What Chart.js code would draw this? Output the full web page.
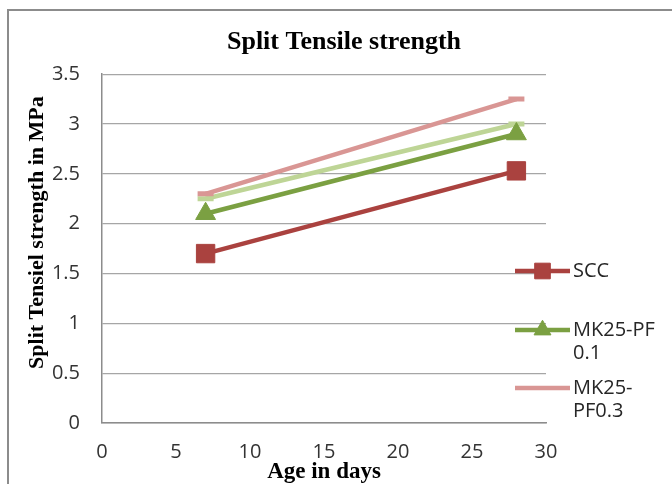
<!DOCTYPE html>
<html>
<head>
<meta charset="utf-8">
<script src="https://cdn.jsdelivr.net/npm/chart.js@4.4.1/dist/chart.umd.min.js"></script>
<style>
  html, body { margin: 0; padding: 0; background: #fff; }
  #wrap { position: relative; width: 672px; height: 484px; }
</style>
</head>
<body>
<div id="wrap"><canvas id="c" width="672" height="484"></canvas></div>
<script>
// ---- data ----
const chartTitle = 'Split Tensile strength';
const xTitle = 'Age in days';
const yTitle = 'Split Tensiel strength in MPa';
const days = [7, 28];
const seriesNames = ['SCC', 'MK25-PF 0.1', 'MK25-PF0.3', 'MK25-PF0.2'];
const sccValues = [1.7, 2.53];
const pf01Values = [2.1, 2.9];
const pf03Values = [2.3, 3.25];
const pf02Values = [2.25, 3.0];
const xTickValues = [0, 5, 10, 15, 20, 25, 30];
const yTickValues = [0, 0.5, 1, 1.5, 2, 2.5, 3, 3.5];
const legendTexts = [['SCC'], ['MK25-PF', '0.1'], ['MK25-', 'PF0.3']];

// ---- styles ----
const colors = ['#AA423F', '#7BA042', '#D99694', '#BED596'];
const pointStyles = ['rect', 'triangle', 'line', 'line'];
const pointRadii = [13, 11.5, 8, 8];
const inLegend = [true, true, true, false];

const toPoints = vals => days.map((d, i) => ({ x: d, y: vals[i] }));
const allValues = [sccValues, pf01Values, pf03Values, pf02Values];

const datasets = allValues.map((vals, i) => ({
  label: seriesNames[i],
  data: toPoints(vals),
  borderColor: colors[i],
  backgroundColor: colors[i],
  borderWidth: 4.5,
  pointStyle: pointStyles[i],
  pointRadius: pointRadii[i],
  pointHoverRadius: pointRadii[i],
  pointBackgroundColor: colors[i],
  pointBorderColor: colors[i],
  pointBorderWidth: pointStyles[i] === 'line' ? 5 : 1,
  tension: 0,
  fill: false,
  xAxisID: 'x',
  yAxisID: 'y'
}));

const serif = "'Liberation Serif', 'Times New Roman', serif";
const sans = "'Open Sans', 'Liberation Sans', sans-serif";

const framePlugin = {
  id: 'frame',
  beforeDraw(chart) {
    const ctx = chart.ctx;
    ctx.save();
    ctx.strokeStyle = '#8c8c8c';
    ctx.lineWidth = 2;
    ctx.beginPath();
    ctx.moveTo(8, 490);
    ctx.lineTo(8, 10);
    ctx.lineTo(680, 10);
    ctx.stroke();
    ctx.restore();
  }
};

const yTitlePlugin = {
  id: 'yTitle',
  afterDraw(chart) {
    const ctx = chart.ctx;
    const area = chart.chartArea;
    ctx.save();
    ctx.translate(37, (area.top + area.bottom) / 2 - 16);
    ctx.rotate(-Math.PI / 2);
    ctx.fillStyle = '#000';
    ctx.font = "bold 22px " + serif;
    ctx.textAlign = 'center';
    ctx.textBaseline = 'middle';
    ctx.fillText(yTitle, 0, 0);
    ctx.restore();
  }
};

const legendPlugin = {
  id: 'customLegend',
  afterDraw(chart) {
    const ctx = chart.ctx;
    const rowsY = [271, 330, 388];
    const lineGap = 23;
    const x0 = 515, x1 = 570, tx = 573;
    let k = 0;
    chart.data.datasets.forEach((ds, i) => {
      if (!inLegend[i]) return;
      const y = rowsY[k];
      ctx.save();
      ctx.strokeStyle = ds.borderColor;
      ctx.fillStyle = ds.backgroundColor;
      ctx.lineWidth = ds.borderWidth;
      ctx.beginPath();
      ctx.moveTo(x0, y);
      ctx.lineTo(x1, y);
      ctx.stroke();
      if (ds.pointStyle !== 'line') {
        ctx.lineWidth = 1;
        Chart.helpers.drawPoint(ctx, { pointStyle: ds.pointStyle, radius: ds.pointRadius * 0.85, rotation: 0, borderWidth: 1 }, (x0 + x1) / 2, y);
      }
      ctx.fillStyle = '#262626';
      ctx.font = "20px " + sans;
      ctx.textBaseline = 'middle';
      ctx.textAlign = 'left';
      legendTexts[k].forEach((t, j) => ctx.fillText(t, tx, y + j * lineGap));
      ctx.restore();
      k++;
    });
  }
};

new Chart(document.getElementById('c'), {
  type: 'line',
  data: { datasets },
  plugins: [framePlugin, yTitlePlugin, legendPlugin],
  options: {
    responsive: false,
    animation: false,
    layout: { padding: { left: 16, top: 0, right: 0, bottom: 0 } },
    plugins: {
      legend: { display: false },
      tooltip: { enabled: false },
      title: {
        display: true,
        text: chartTitle,
        color: '#000',
        font: { family: serif, size: 26, weight: 'bold', lineHeight: 1.2 },
        padding: { top: 27, bottom: 16 }
      }
    },
    scales: {
      x: {
        type: 'linear',
        position: 'bottom',
        min: 0, max: 30,
        afterBuildTicks: s => { s.ticks = xTickValues.map(v => ({ value: v })); },
        afterFit: s => { s.height = 61; },
        grid: { display: false, drawTicks: false },
        border: { display: true, color: '#8c8c8c', width: 1.5 },
        ticks: { color: '#333', font: { family: sans, size: 20 }, padding: 17, maxRotation: 0, autoSkip: false },
        title: {
          display: true, text: xTitle, color: '#000',
          font: { family: serif, size: 23, weight: 'bold', lineHeight: 1 },
          padding: { top: 0, bottom: 0 }
        }
      },
      y: {
        type: 'linear',
        position: 'left',
        min: 0, max: 3.5,
        afterBuildTicks: s => { s.ticks = yTickValues.map(v => ({ value: v })); },
        afterFit: s => { s.width = 86; },
        grid: { color: '#a6a6a6', lineWidth: 1.2, drawTicks: false },
        border: { display: true, color: '#8c8c8c', width: 1.5 },
        ticks: { color: '#333', font: { family: sans, size: 20 }, padding: 22, callback: v => String(v) },
        title: { display: false, text: yTitle }
      },
      yR: {
        type: 'linear',
        position: 'right',
        min: 0, max: 1,
        display: true,
        afterFit: s => { s.width = 126; },
        grid: { display: false, drawTicks: false },
        border: { display: false },
        ticks: { display: false }
      }
    }
  }
});
</script>
</body>
</html>
